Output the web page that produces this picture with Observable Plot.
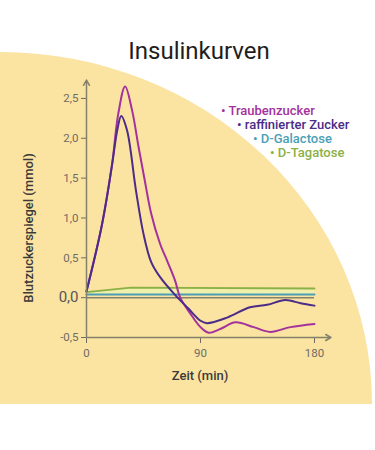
<!DOCTYPE html>
<html><head><meta charset="utf-8">
<script src="https://cdn.jsdelivr.net/npm/d3@7"></script>
<script src="https://cdn.jsdelivr.net/npm/@observablehq/plot@0.6"></script>
<style>
html,body{margin:0;padding:0;background:#fff;}
#wrap{position:relative;width:375px;height:450px;overflow:hidden;font-family:Roboto,"Noto Sans",sans-serif;}
#bgclip{position:absolute;left:0;top:0;width:375px;height:404px;overflow:hidden;}
#bg{position:absolute;left:-372px;top:52px;width:744px;height:704px;border-radius:50%;background:#fbe3a2;}
#title{position:absolute;left:0;width:398px;top:37px;text-align:center;font-size:24px;font-weight:400;color:#1e1e1e;}
.leg{position:absolute;font-size:13px;font-weight:500;white-space:nowrap;line-height:13px;}
#xlab{position:absolute;left:0;width:400px;top:368px;text-align:center;font-size:13px;font-weight:500;color:#3a3a3a;}
#ylab{position:absolute;left:28px;top:228px;transform:translate(-50%,-50%) rotate(-90deg);font-size:13px;font-weight:500;color:#3a3a3a;white-space:nowrap;}
#chart{position:absolute;left:0;top:0;}
</style></head>
<body>
<div id="wrap">
  <div id="bgclip"><div id="bg"></div></div>
  <div id="title">Insulinkurven</div>
  <div id="chart"></div>
  <div id="legend"></div>
  <div id="xlab">Zeit (min)</div>
  <div id="ylab">Blutzuckerspiegel (mmol)</div>
</div>
<script>
// ---- data ----
const seriesNames = ["Traubenzucker", "raffinierter Zucker", "D-Galactose", "D-Tagatose"];
const seriesColors = ["#a3329c", "#4b2c88", "#4a9fb6", "#8cb046"];

const tTrauben = [0, 12, 20, 25, 30.5, 36, 41, 46, 51, 58, 64, 70, 74, 82, 90, 96.5, 106, 117.6, 132, 145, 161, 180];
const vTrauben = [0.08, 0.9, 1.65, 2.3, 2.65, 2.35, 1.9, 1.47, 1.06, 0.68, 0.45, 0.21, 0.0, -0.2, -0.37, -0.44, -0.39, -0.31, -0.37, -0.43, -0.37, -0.33];

const tRaff = [0, 12, 20, 24.5, 27.4, 32, 39, 45, 51, 58, 69, 80, 90, 95, 111, 129, 142.6, 157, 169, 180];
const vRaff = [0.08, 0.9, 1.65, 2.12, 2.28, 2.1, 1.35, 0.8, 0.45, 0.26, 0.05, -0.13, -0.29, -0.32, -0.25, -0.12, -0.09, -0.03, -0.07, -0.1];

const tGal = [0, 180];
const vGal = [0.04, 0.04];

const tTag = [0, 35, 180];
const vTag = [0.07, 0.125, 0.115];

const yTicks = [-0.5, 0, 0.5, 1.0, 1.5, 2.0, 2.5];
const xTicks = [0, 90, 180];

// ---- build ----
const mk = (ts, vs, name) => ts.map((t, i) => ({t, v: vs[i], name}));
const dTrauben = mk(tTrauben, vTrauben, seriesNames[0]);
const dRaff = mk(tRaff, vRaff, seriesNames[1]);
const dGal = mk(tGal, vGal, seriesNames[2]);
const dTag = mk(tTag, vTag, seriesNames[3]);
const band = tTag.map((t, i) => ({t, lo: vGal[0], hi: vTag[i]}));

const axisColor = "#85826c";
const fmt = d => d.toFixed(1).replace(".", ",");

const plot = Plot.plot({
  width: 375, height: 450,
  marginLeft: 86, marginRight: 61, marginTop: 82, marginBottom: 113,
  style: {background: "transparent", color: "#6e6c62", fontSize: "11.5px", fontFamily: "Roboto, sans-serif"},
  x: {domain: [0, 180], ticks: xTicks, tickSize: 6, tickPadding: 5, tickFormat: d => String(d), label: null},
  y: {domain: [-0.5, 2.7], ticks: yTicks, tickSize: 5, tickPadding: 3, tickFormat: fmt, label: null},
  marks: [
    Plot.areaY(band, {x: "t", y1: "lo", y2: "hi", fill: "#eef0ac", curve: "linear"}),
    Plot.ruleY([0], {x1: 0, x2: 180, stroke: axisColor, strokeWidth: 1.5}),
    Plot.line(dGal, {x: "t", y: "v", stroke: seriesColors[2], strokeWidth: 2}),
    Plot.line(dTag, {x: "t", y: "v", stroke: seriesColors[3], strokeWidth: 1.8}),
    Plot.line(dTrauben, {x: "t", y: "v", stroke: seriesColors[0], strokeWidth: 2, curve: "catmull-rom"}),
    Plot.line(dRaff, {x: "t", y: "v", stroke: seriesColors[1], strokeWidth: 2, curve: "catmull-rom"}),
    Plot.arrow([0], {x1: 0, y1: -0.5, x2: 193, y2: -0.5, stroke: axisColor, strokeWidth: 1.5, headLength: 6}),
    Plot.arrow([0], {x1: 0, y1: -0.5, x2: 0, y2: 2.73, stroke: axisColor, strokeWidth: 1.5, headLength: 6})
  ]
});
document.getElementById("chart").appendChild(plot);

// enlarge the 0,0 label
d3.select(plot).selectAll("text").each(function() {
  if (this.textContent === "0,0") { d3.select(this).style("font-size", "15px").style("fill", "#555"); }
});
d3.select(plot).selectAll("g[aria-label='y-axis'], g[aria-label='x-axis']").attr("stroke", axisColor);

// legend
const legPos = [[221, 104], [237, 118], [253, 132], [270, 146]];
const leg = document.getElementById("legend");
seriesNames.forEach((n, i) => {
  const d = document.createElement("div");
  d.className = "leg";
  d.style.left = legPos[i][0] + "px";
  d.style.top = legPos[i][1] + "px";
  d.style.color = seriesColors[i];
  d.textContent = "\u2022 " + n;
  leg.appendChild(d);
});
</script>
</body></html>
